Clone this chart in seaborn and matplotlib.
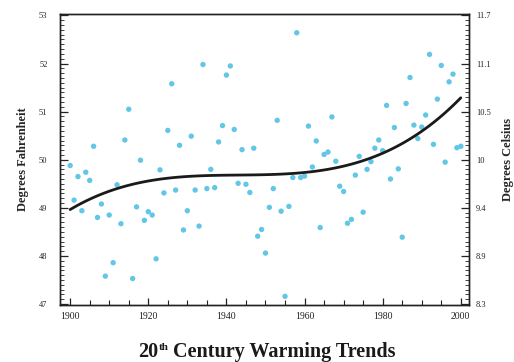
import matplotlib
matplotlib.use("Agg")
import matplotlib.pyplot as plt
from matplotlib.ticker import MultipleLocator
import seaborn as sns
import pandas as pd

# ---- data ----
years = list(range(1900, 2001))
temps_f = [
    49.88, 49.16, 49.65, 48.94, 49.74, 49.57, 50.28, 48.80, 49.08, 47.58,
    48.85, 47.86, 49.48, 48.67, 50.41, 51.05, 47.53, 49.02, 49.99, 48.74,
    48.92, 48.85, 47.94, 49.79, 49.31, 50.61, 51.58, 49.37, 50.30, 48.54,
    48.94, 50.49, 49.37, 48.62, 51.98, 49.40, 49.80, 49.42, 50.37, 50.71,
    51.76, 51.95, 50.63, 49.51, 50.21, 49.49, 49.32, 50.24, 48.41, 48.55,
    48.06, 49.01, 49.40, 50.82, 48.93, 47.16, 49.03, 49.63, 52.64, 49.63,
    49.66, 50.70, 49.85, 50.39, 48.59, 50.11, 50.16, 50.89, 49.97, 49.45,
    49.34, 48.68, 48.76, 49.68, 50.07, 48.91, 49.80, 49.96, 50.24, 50.41,
    50.19, 51.13, 49.60, 50.67, 49.81, 48.39, 51.17, 51.71, 50.72, 50.44,
    50.68, 50.93, 52.19, 50.32, 51.26, 51.96, 49.95, 51.62, 51.78, 50.25,
    50.28,
]
x_ticks = [1900, 1920, 1940, 1960, 1980, 2000]
f_ticks = [47, 48, 49, 50, 51, 52, 53]
f_labels = ["47", "48", "49", "50", "51", "52", "53"]
c_labels = ["8.3", "8.9", "9.4", "10", "10.5", "11.1", "11.7"]
title_main = "20"
title_sup = "th"
title_rest = " Century Warming Trends"
ylabel_left = "Degrees Fahrenheit"
ylabel_right = "Degrees Celsius"

df = pd.DataFrame({"year": years, "temp": temps_f})

sns.set_style("white")
plt.rcParams["font.family"] = ["Liberation Serif", "DejaVu Serif"]

fig = plt.figure(figsize=(5.14, 3.62), dpi=100)
ax = fig.add_axes([60 / 514, 1 - 305 / 362, (469 - 60) / 514, (305 - 14) / 362])

sns.scatterplot(data=df, x="year", y="temp", ax=ax, color="#62C6E6",
                s=15, edgecolor="none", linewidth=0, zorder=2)
sns.regplot(data=df, x="year", y="temp", ax=ax, order=3, ci=None,
            scatter=False, truncate=True,
            line_kws={"color": "#1a1a1a", "linewidth": 2.0, "zorder": 3})

ax.set_xlim(1897.4, 2002.1)
ax.set_ylim(46.98, 53.03)
ax.set_xticks(x_ticks)
ax.set_xticklabels([str(t) for t in x_ticks])
ax.xaxis.set_minor_locator(MultipleLocator(5))
ax.set_yticks(f_ticks)
ax.set_yticklabels(f_labels)
ax.yaxis.set_minor_locator(MultipleLocator(0.1))
ax.set_xlabel("")
ax.set_ylabel(ylabel_left, fontsize=9, fontweight="bold", labelpad=7)

for s in ax.spines.values():
    s.set_color("#222222")
    s.set_linewidth(1.0)

ax.tick_params(axis="y", which="major", direction="in", length=6, width=0.9,
               labelsize=6, pad=9, left=True, right=False, colors="#222222")
ax.tick_params(axis="y", which="minor", direction="in", length=3, width=0.6,
               left=True, right=False, colors="#222222")
ax.tick_params(axis="x", which="major", direction="in", length=5, width=0.9,
               labelsize=7, pad=5, bottom=True, top=False, colors="#222222")
ax.tick_params(axis="x", which="minor", direction="in", length=3.5, width=0.8,
               bottom=True, top=False, colors="#222222")

ax2 = ax.twinx()
ax2.set_ylim(ax.get_ylim())
ax2.set_yticks(f_ticks)
ax2.set_yticklabels(c_labels)
ax2.yaxis.set_minor_locator(MultipleLocator(0.1))
ax2.tick_params(axis="y", which="major", direction="in", length=6, width=0.9,
                labelsize=6, pad=5, colors="#222222")
ax2.tick_params(axis="y", which="minor", direction="in", length=3, width=0.6,
                colors="#222222")
ax2.set_ylabel(ylabel_right, fontsize=9, fontweight="bold", rotation=90,
               labelpad=8)
for s in ax2.spines.values():
    s.set_color("#222222")
    s.set_linewidth(1.0)

# title built from pieces so the superscript stays small
fs = 14.5
base_y = 1 - 357 / 362
t1 = fig.text(138 / 514, base_y, title_main, ha="left", va="baseline",
              fontsize=fs, fontweight="bold", color="#1a1a1a")
fig.canvas.draw()
r = fig.canvas.get_renderer()
bb1 = t1.get_window_extent(r)
t2 = fig.text(bb1.x1 / 514 + 0.5 / 514, 1 - 350 / 362, title_sup, ha="left",
              va="baseline", fontsize=fs * 0.55, fontweight="bold",
              color="#1a1a1a")
bb2 = t2.get_window_extent(r)
fig.text(bb2.x1 / 514, base_y, title_rest, ha="left", va="baseline",
         fontsize=fs, fontweight="bold", color="#1a1a1a")

fig.savefig("out.png", dpi=100, facecolor="white")
